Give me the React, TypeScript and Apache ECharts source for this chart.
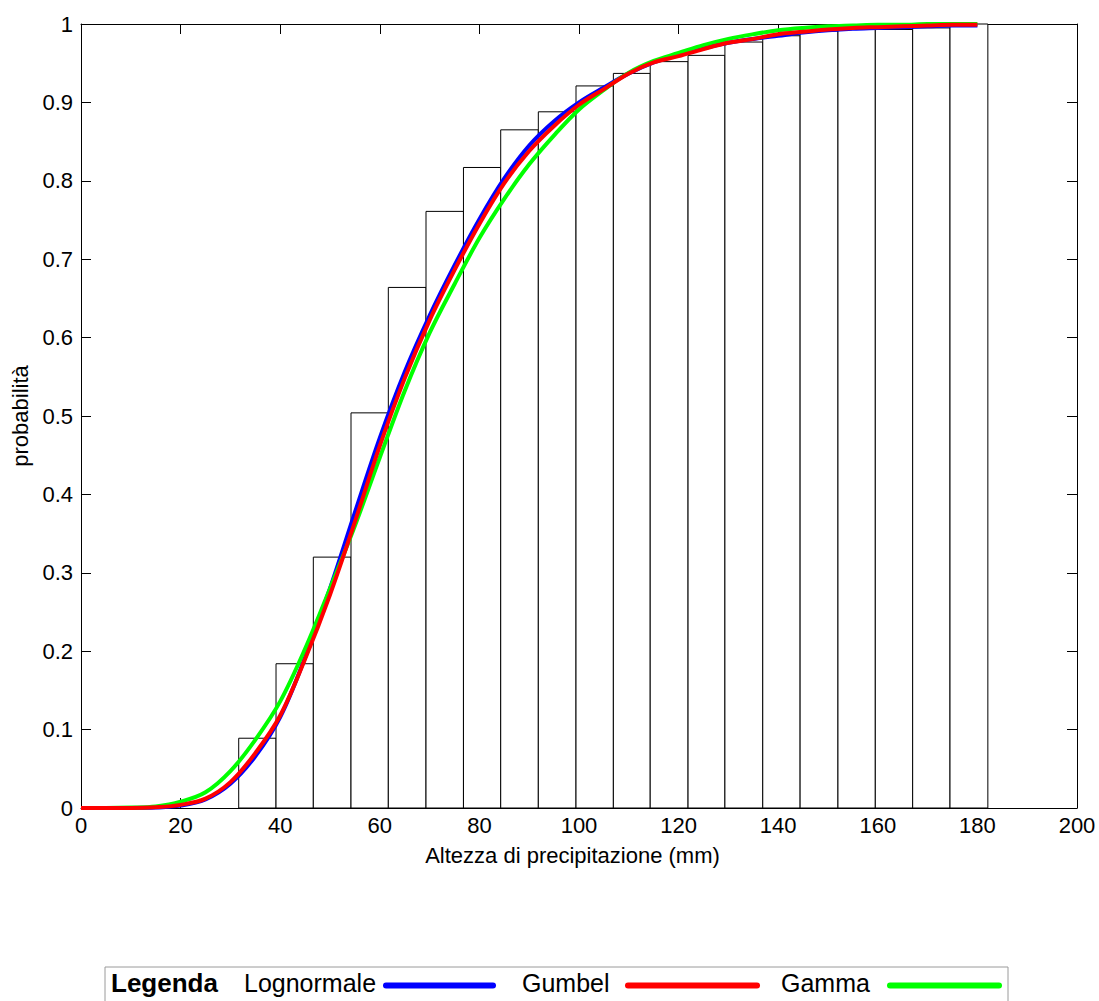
import React, { useEffect, useRef } from "react";
import * as echarts from "echarts";

// Histogram of cumulative frequencies (bin edges in mm, heights as probability)
const binEdges = [31.67, 39.16, 46.65, 54.22, 61.71, 69.28, 76.8, 84.28, 91.83, 99.4, 106.9, 114.3, 121.9, 129.3, 136.9, 144.4, 152.0, 159.5, 167.0, 174.5, 182.1];
const cumFreq = [0.089, 0.184, 0.32, 0.504, 0.664, 0.761, 0.817, 0.865, 0.888, 0.921, 0.937, 0.952, 0.96, 0.977, 0.985, 0.991, 0.993, 0.993, 0.995, 1.0];

// Fitted CDF curves
const curveX = [0, 5, 10, 15, 20, 25, 30, 35, 40, 45, 50, 55, 60, 65, 70, 75, 80, 85, 90, 95, 100, 105, 110, 115, 120, 125, 130, 135, 140, 145, 150, 155, 160, 165, 170, 175, 180];
const lognormale = [0, 0, 0, 0.0005, 0.003, 0.011, 0.031, 0.066, 0.116, 0.192, 0.28, 0.377, 0.472, 0.556, 0.628, 0.692, 0.751, 0.803, 0.845, 0.876, 0.9, 0.919, 0.937, 0.951, 0.961, 0.969, 0.976, 0.981, 0.985, 0.989, 0.992, 0.994, 0.995, 0.996, 0.997, 0.998, 0.998];
const gumbel = [0, 0, 0, 0.001, 0.004, 0.012, 0.033, 0.07, 0.118, 0.19, 0.272, 0.365, 0.462, 0.548, 0.622, 0.686, 0.745, 0.797, 0.838, 0.87, 0.897, 0.917, 0.937, 0.951, 0.959, 0.968, 0.976, 0.981, 0.987, 0.99, 0.993, 0.995, 0.996, 0.997, 0.998, 0.999, 0.999];
const gamma = [0, 0, 0.0005, 0.002, 0.008, 0.02, 0.047, 0.087, 0.136, 0.203, 0.28, 0.36, 0.447, 0.532, 0.606, 0.668, 0.727, 0.777, 0.821, 0.858, 0.891, 0.916, 0.938, 0.953, 0.963, 0.973, 0.981, 0.987, 0.992, 0.995, 0.997, 0.998, 0.999, 0.999, 1.0, 1.0, 1.0];

const xLabel = "Altezza di precipitazione (mm)";
const yLabel = "probabilità";
const legendTitle = "Legenda";
const seriesNames = ["Lognormale", "Gumbel", "Gamma"];
const seriesColors = ["#0000ff", "#ff0000", "#00ff00"];

const FONT = "'Liberation Sans', Arial, sans-serif";

export default function App() {
  const ref = useRef<HTMLDivElement>(null);

  useEffect(() => {
    if (!ref.current) return;
    const chart = echarts.init(ref.current, null, { renderer: "svg" });

    const bars = cumFreq.map((h, i) => [binEdges[i], binEdges[i + 1], h]);
    const pairs = (ys: number[]) => curveX.map((x, i) => [x, ys[i]]);

    const axisCommon = {
      type: "value" as const,
      axisLine: { show: true, onZero: false, lineStyle: { color: "#000", width: 1 } },
      axisTick: { show: true, inside: true, length: 10, lineStyle: { color: "#000" } },
      splitLine: { show: false },
    };

    const lineSeries = (name: string, ys: number[], color: string) => ({
      type: "line",
      name,
      data: pairs(ys),
      showSymbol: false,
      smooth: 0.35,
      lineStyle: { color, width: 4 },
      itemStyle: { color },
      z: 5,
    });

    const legendY = 983;
    const lineY = 985.5;

    chart.setOption({
      animation: false,
      backgroundColor: "#fff",
      grid: { left: 81, top: 24, width: 996, height: 784, containLabel: false },
      xAxis: [
        {
          ...axisCommon,
          position: "bottom",
          min: 0,
          max: 200,
          interval: 20,
          axisLabel: { show: true, margin: 6, color: "#000", fontSize: 22, fontFamily: FONT },
          name: xLabel,
          nameLocation: "middle",
          nameGap: 36,
          nameTextStyle: { color: "#000", fontSize: 22, fontFamily: FONT, padding: [0, 13, 0, 0] },
        },
        {
          ...axisCommon,
          position: "top",
          min: 0,
          max: 200,
          interval: 20,
          axisLabel: { show: false },
        },
      ],
      yAxis: [
        {
          ...axisCommon,
          position: "left",
          min: 0,
          max: 1,
          interval: 0.1,
          axisLabel: {
            show: true,
            margin: 8,
            color: "#000",
            fontSize: 22,
            fontFamily: FONT,
            formatter: (v: number) => (v === 0 ? "0" : v === 1 ? "1" : v.toFixed(1)),
          },
          name: yLabel,
          nameLocation: "middle",
          nameGap: 48,
          nameRotate: 90,
          nameTextStyle: { color: "#000", fontSize: 22, fontFamily: FONT },
        },
        {
          ...axisCommon,
          position: "right",
          min: 0,
          max: 1,
          interval: 0.1,
          axisLabel: { show: false },
        },
      ],
      series: [
        {
          type: "custom",
          name: "istogramma",
          xAxisIndex: 0,
          yAxisIndex: 0,
          encode: { x: [0, 1], y: 2 },
          data: bars,
          z: 2,
          renderItem: (params: any, api: any) => {
            const x0 = api.value(0);
            const x1 = api.value(1);
            const h = api.value(2);
            const p0 = api.coord([x0, h]);
            const p1 = api.coord([x1, 0]);
            return {
              type: "rect",
              shape: { x: p0[0], y: p0[1], width: p1[0] - p0[0], height: p1[1] - p0[1] },
              style: { fill: "#fff", stroke: "#000", lineWidth: 1 },
            };
          },
        },
        lineSeries(seriesNames[0], lognormale, seriesColors[0]),
        lineSeries(seriesNames[2], gamma, seriesColors[2]),
        lineSeries(seriesNames[1], gumbel, seriesColors[1]),
      ],
      graphic: [
        {
          type: "rect",
          shape: { x: 105, y: 967, width: 903, height: 60 },
          style: { fill: "none", stroke: "#9a9a9a", lineWidth: 1 },
        },
        {
          type: "text",
          x: 111,
          y: legendY,
          style: { text: legendTitle, font: `bold 26px ${FONT}`, fill: "#000", verticalAlign: "middle" },
        },
        {
          type: "text",
          x: 244,
          y: legendY,
          style: { text: seriesNames[0], font: `25px ${FONT}`, fill: "#000", verticalAlign: "middle" },
        },
        {
          type: "line",
          shape: { x1: 386, y1: lineY, x2: 493, y2: lineY },
          style: { stroke: seriesColors[0], lineWidth: 6, lineCap: "round" },
        },
        {
          type: "text",
          x: 522,
          y: legendY,
          style: { text: seriesNames[1], font: `25px ${FONT}`, fill: "#000", verticalAlign: "middle" },
        },
        {
          type: "line",
          shape: { x1: 628, y1: lineY, x2: 757, y2: lineY },
          style: { stroke: seriesColors[1], lineWidth: 6, lineCap: "round" },
        },
        {
          type: "text",
          x: 781,
          y: legendY,
          style: { text: seriesNames[2], font: `25px ${FONT}`, fill: "#000", verticalAlign: "middle" },
        },
        {
          type: "line",
          shape: { x1: 890, y1: lineY, x2: 999, y2: lineY },
          style: { stroke: seriesColors[2], lineWidth: 6, lineCap: "round" },
        },
      ],
    });

    return () => chart.dispose();
  }, []);

  return (
    <div
      ref={ref}
      style={{ position: "fixed", left: 0, top: 0, width: 1099, height: 1001, background: "#fff" }}
    />
  );
}
